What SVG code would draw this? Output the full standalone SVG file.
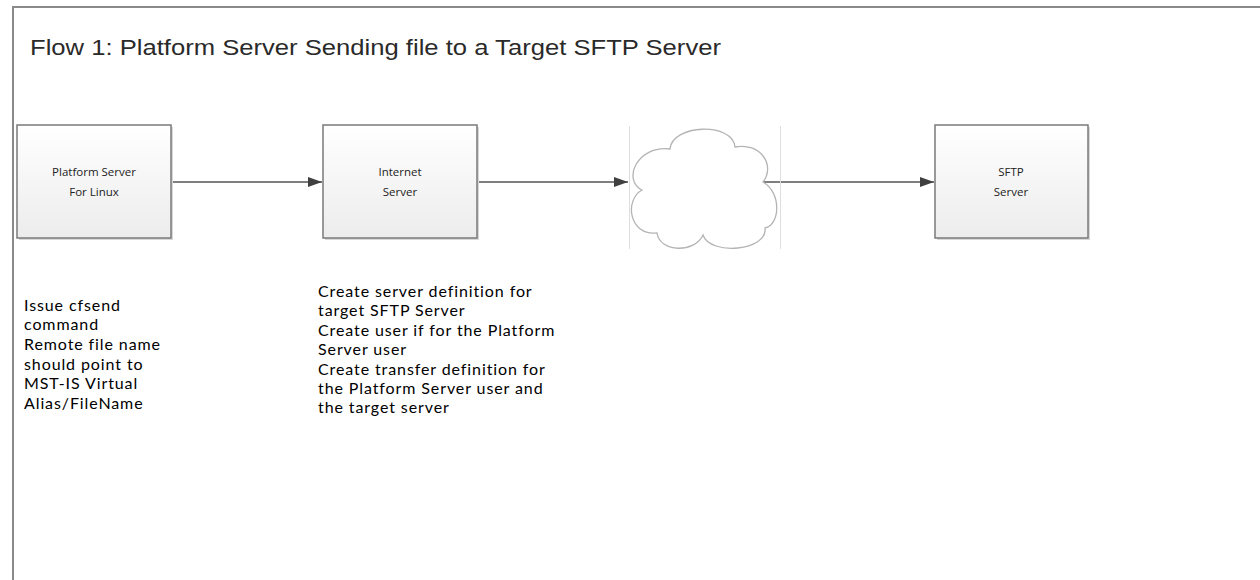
<svg xmlns="http://www.w3.org/2000/svg" width="1260" height="580" viewBox="0 0 1260 580">
<style>
.frame{fill:none;stroke:#8a8a8a;stroke-width:2}
.box{fill:url(#boxg);stroke:#7a7a7a;stroke-width:1.5}
.shadow{fill:#d8d8d8}
.btxt{font-family:"Open Sans","DejaVu Sans",sans-serif;font-size:11.5px;fill:#222;text-anchor:middle}
.note{font-family:Lato,"Liberation Sans",sans-serif;font-size:16px;letter-spacing:0.9px;fill:#000}
.title{font-family:"Liberation Sans",Arial,sans-serif;font-size:22px;fill:#2a2a2a}
.conn{stroke:#555;stroke-width:1.5;fill:none;marker-end:url(#arr)}
.cloud{fill:#fff;stroke:#b4b4b4;stroke-width:1.3}
.guide{stroke:#dedede;stroke-width:1}
</style>
<defs>
<linearGradient id="boxg" x1="0" y1="0" x2="0" y2="1">
<stop offset="0" stop-color="#ffffff"/>
<stop offset="1" stop-color="#ececec"/>
</linearGradient>
<marker id="arr" viewBox="0 0 14 10" refX="14" refY="5" markerWidth="14" markerHeight="10" markerUnits="userSpaceOnUse" orient="auto">
<path d="M0,0 L14,5 L0,10 Z" fill="#404040"/>
</marker>
</defs>
<rect width="1260" height="580" fill="#fff"/>
<path class="frame" d="M13,580 V7 H1260"/>
<text class="title" x="30" y="55" textLength="691" lengthAdjust="spacingAndGlyphs">Flow 1: Platform Server Sending file to a Target SFTP Server</text>

<g id="connectors">
<line class="conn" x1="171" y1="182" x2="322" y2="182"/>
<line class="conn" x1="477" y1="182" x2="628" y2="182"/>
<line class="conn" x1="763" y1="182" x2="934" y2="182"/>
</g>

<g id="node-platform">
<rect class="shadow" x="19" y="127" width="154" height="113"/>
<rect class="box" x="17" y="125" width="154" height="113"/>
<text class="btxt" x="94" y="176">Platform Server</text>
<text class="btxt" x="94" y="196">For Linux</text>
</g>

<g id="node-internet">
<rect class="shadow" x="325" y="127" width="154" height="113"/>
<rect class="box" x="323" y="125" width="154" height="113"/>
<text class="btxt" x="400" y="176">Internet</text>
<text class="btxt" x="400" y="196">Server</text>
</g>

<g id="node-cloud">
<line class="guide" x1="629.5" y1="126" x2="629.5" y2="249"/>
<line class="guide" x1="780.5" y1="126" x2="780.5" y2="249"/>
<path class="cloud" d="M670,149 C672,124 733,122 735,147 C760,142 776,165 763,182 C782,193 780,225 765,228 C768,251 710,256 703,235 C695,253 660,253 657,233 C629,236 624,200 642,190 C622,180 637,145 670,149 Z"/>
</g>

<g id="node-sftp">
<rect class="shadow" x="937" y="127" width="153" height="113"/>
<rect class="box" x="935" y="125" width="153" height="113"/>
<text class="btxt" x="1011" y="176">SFTP</text>
<text class="btxt" x="1011" y="196">Server</text>
</g>

<g id="note-left">
<text class="note" x="24" y="311">Issue cfsend</text>
<text class="note" x="24" y="330">command</text>
<text class="note" x="24" y="350">Remote file name</text>
<text class="note" x="24" y="370">should point to</text>
<text class="note" x="24" y="389">MST-IS Virtual</text>
<text class="note" x="24" y="409">Alias/FileName</text>
</g>

<g id="note-right">
<text class="note" x="318" y="297">Create server definition for</text>
<text class="note" x="318" y="316">target SFTP Server</text>
<text class="note" x="318" y="336">Create user if for the Platform</text>
<text class="note" x="318" y="355">Server user</text>
<text class="note" x="318" y="375">Create transfer definition for</text>
<text class="note" x="318" y="394">the Platform Server user and</text>
<text class="note" x="318" y="413">the target server</text>
</g>
</svg>
